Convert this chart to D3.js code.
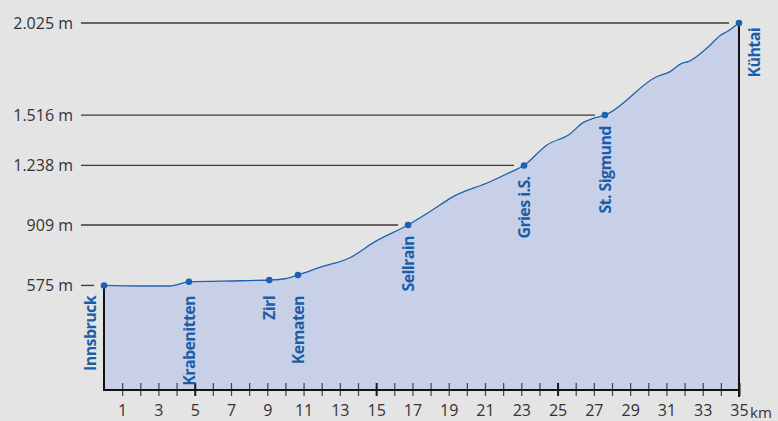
<!DOCTYPE html>
<html>
<head>
<meta charset="utf-8">
<script src="https://cdn.jsdelivr.net/npm/d3@7"></script>
<style>
  html, body { margin: 0; padding: 0; background: #e3e4e3; }
  svg { display: block; font-family: "Open Sans", sans-serif; }
</style>
</head>
<body>
<svg id="chart" width="778" height="421"></svg>
<script>
// stops along the route (km, elevation in m)
var stopNames = ["Innsbruck", "Krabenitten", "Zirl", "Kematen", "Sellrain", "Gries i.S.", "St. Sigmund", "Kühtai"];
var stopKm = [0, 4.68, 9.11, 10.69, 16.76, 23.15, 27.61, 35];
var stopElev = [575, 595, 605, 633, 909, 1238, 1516, 2025];

// elevation profile
var profileKm = [0, 2.0, 3.64, 4.68, 7.5, 9.11, 9.98, 10.69, 11.9, 13.56, 14.94, 16.76, 18.52, 19.07, 21.28, 22.38, 23.15,
  24.4, 25.68, 26.42, 26.97, 27.61, 30.46, 31.2, 31.84, 32.2, 33.22, 33.95, 34.41, 35];
var profileElev = [575, 572, 572, 595, 601, 605, 612, 633, 675, 728, 817, 909, 1019, 1056, 1148, 1200, 1238,
  1350, 1412, 1476, 1498, 1516, 1728, 1756, 1802, 1811, 1885, 1955, 1982, 2025];

// reference elevations on the left
var refElev = [575, 909, 1238, 1516, 2025];
var refLabels = ["575 m", "909 m", "1.238 m", "1.516 m", "2.025 m"];

var kmTicks = d3.range(1, 36);

var svg = d3.select('#chart');

var x = d3.scaleLinear().domain([0, 35]).range([104, 739]);
var y = d3.scaleLinear().domain([0, 2025]).range([389.5, 23]);

var blue = '#1d62ae';
var profile = profileKm.map(function(k, i) { return { km: k, elev: profileElev[i] }; });
var stops = stopNames.map(function(n, i) { return { name: n, km: stopKm[i], elev: stopElev[i] }; });

// area under the profile
var area = d3.area()
  .x(function(d) { return x(d.km); })
  .y0(y(0))
  .y1(function(d) { return y(d.elev); })
  .curve(d3.curveMonotoneX);

svg.append('path')
  .datum(profile)
  .attr('d', area)
  .attr('fill', '#c8d0e8');

var line = d3.line()
  .x(function(d) { return x(d.km); })
  .y(function(d) { return y(d.elev); })
  .curve(d3.curveMonotoneX);

svg.append('path')
  .datum(profile)
  .attr('d', line)
  .attr('fill', 'none')
  .attr('stroke', blue)
  .attr('stroke-width', 1.3);

// reference lines + labels
var refs = svg.append('g').attr('class', 'refs');
refElev.forEach(function(e, i) {
  var stop = stops.filter(function(s) { return s.elev === e; })[0];
  refs.append('line')
    .attr('x1', 81).attr('x2', x(stop.km) - 10)
    .attr('y1', y(e)).attr('y2', y(e))
    .attr('stroke', '#3a3a3a')
    .attr('stroke-width', 1.3);
  refs.append('text')
    .attr('x', 73).attr('y', y(e))
    .attr('dy', '0.35em')
    .attr('text-anchor', 'end')
    .attr('font-size', 16)
    .attr('fill', '#333')
    .text(refLabels[i]);
});

// vertical lines at start and end
svg.append('line')
  .attr('x1', x(0)).attr('x2', x(0))
  .attr('y1', y(stopElev[0])).attr('y2', 390)
  .attr('stroke', '#111').attr('stroke-width', 2);
svg.append('line')
  .attr('x1', x(35)).attr('x2', x(35))
  .attr('y1', y(2025)).attr('y2', 397)
  .attr('stroke', '#111').attr('stroke-width', 2);

// x axis
var axis = d3.axisBottom(x)
  .tickValues(kmTicks)
  .tickSize(6)
  .tickFormat(function(d) { return d % 2 ? d : ''; });

var gx = svg.append('g')
  .attr('transform', 'translate(0,390)')
  .call(axis);
gx.select('.domain').remove();
gx.selectAll('.tick line')
  .attr('y1', -7).attr('y2', 6)
  .attr('stroke', function(d) { return d % 10 === 5 ? '#1a1a1a' : '#444'; })
  .attr('stroke-width', function(d) { return d % 10 === 5 ? 2 : 1.2; });
gx.selectAll('.tick text')
  .attr('y', 15)
  .attr('dy', '0.71em')
  .attr('font-size', 16)
  .attr('font-family', '"Open Sans", sans-serif')
  .attr('fill', '#333');

svg.append('line')
  .attr('x1', x(0) - 1).attr('x2', x(35) + 1)
  .attr('y1', 390).attr('y2', 390)
  .attr('stroke', '#111').attr('stroke-width', 2);

svg.append('text')
  .attr('x', x(35) + 11).attr('y', 418)
  .attr('font-size', 15)
  .attr('fill', '#333')
  .text('km');

// stop markers
svg.selectAll('.stop')
  .data(stops)
  .enter().append('circle')
  .attr('class', 'stop')
  .attr('cx', function(d) { return x(d.km); })
  .attr('cy', function(d) { return y(d.elev); })
  .attr('r', 3.3)
  .attr('fill', blue);

// stop labels, rotated; the low ones all start just under the 575 m level
var last = stops.length - 1;
svg.selectAll('.stop-label')
  .data(stops)
  .enter().append('text')
  .attr('class', 'stop-label')
  .attr('transform', function(d, i) {
    var px = x(d.km);
    if (i === 0) px -= 14;
    if (i === last) px += 15;
    var top;
    if (i === last) top = y(d.elev) + 5;
    else if (d.elev < 700) top = 296;
    else top = y(d.elev) + 11;
    return 'translate(' + px + ',' + top + ') rotate(-90)';
  })
  .attr('dy', '0.35em')
  .attr('text-anchor', 'end')
  .attr('font-size', 16)
  .attr('font-weight', 700)
  .attr('letter-spacing', -0.6)
  .attr('fill', '#1a5ea9')
  .text(function(d) { return d.name; });
</script>
</body>
</html>
